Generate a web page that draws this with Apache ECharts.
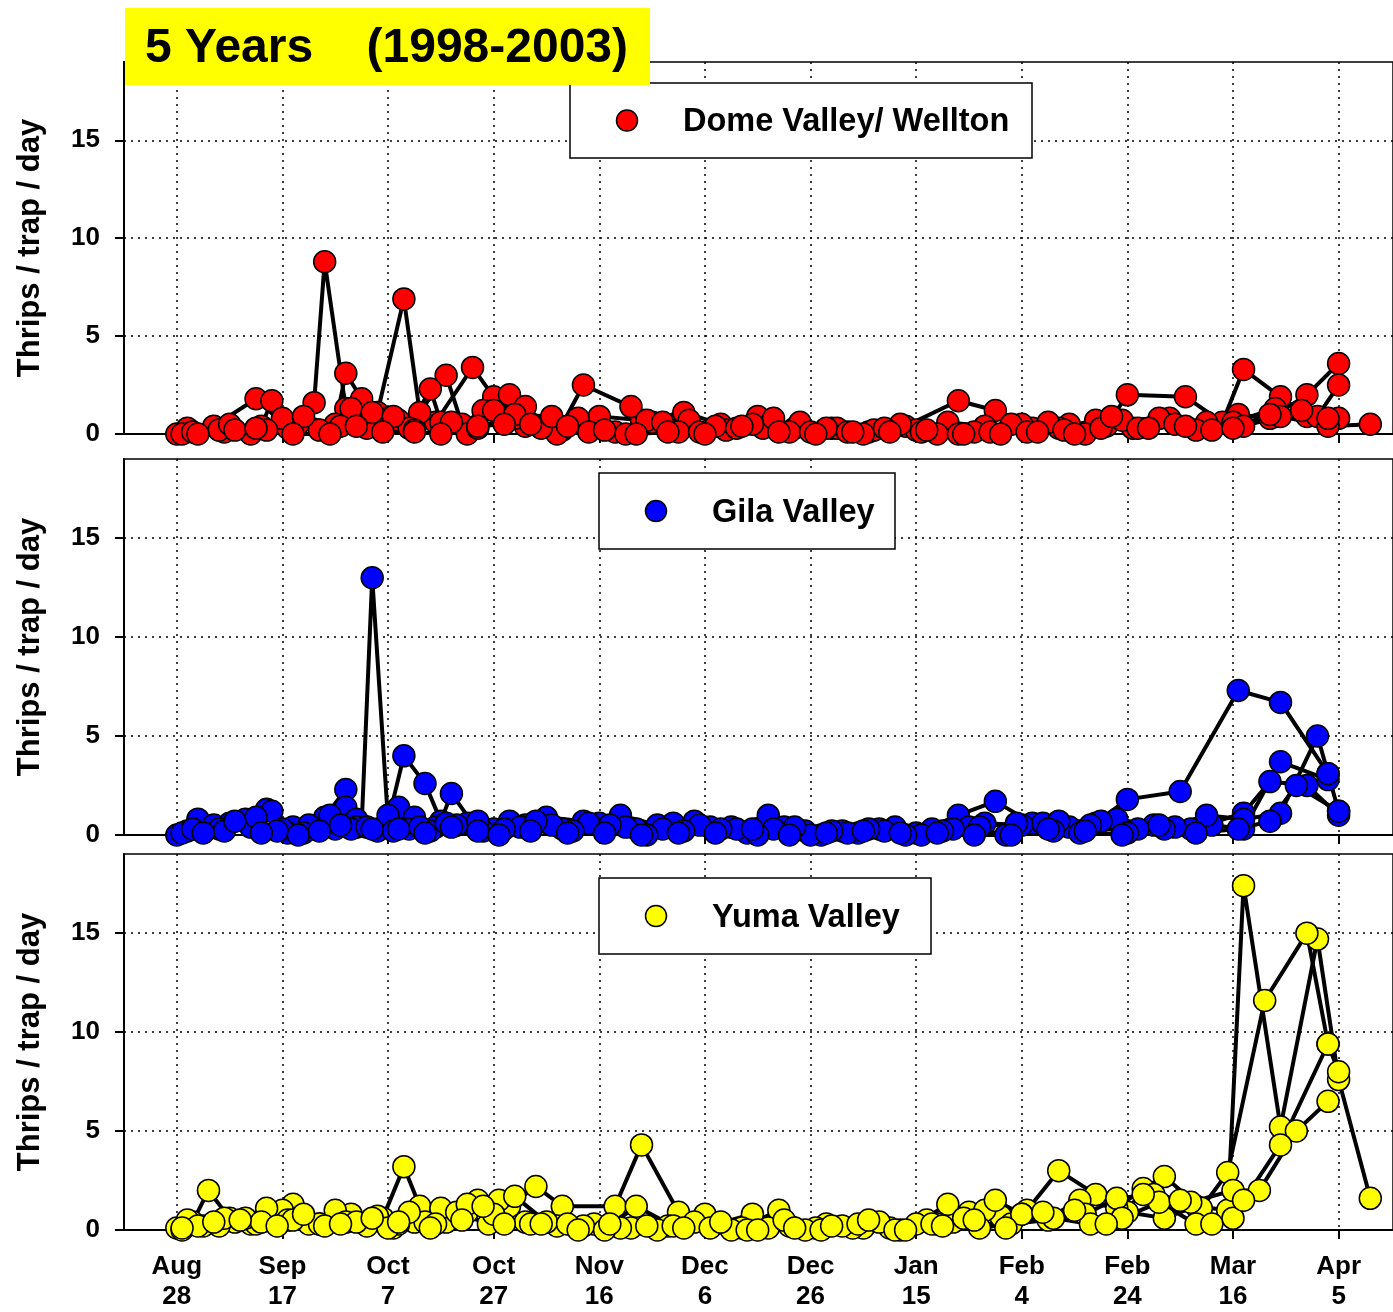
<!DOCTYPE html>
<html>
<head>
<meta charset="utf-8">
<script src="https://cdn.jsdelivr.net/npm/echarts@6/dist/echarts.min.js"></script>
<style>
  html, body { margin: 0; padding: 0; background: #fff; }
  #chart { width: 1393px; height: 1312px; }
</style>
</head>
<body>
<div id="chart"></div>
<script>
// days counted from Aug 28
const xTickDays = [0, 20, 40, 60, 80, 100, 120, 140, 160, 180, 200, 220];
const xTickLabels = ['Aug\n28', 'Sep\n17', 'Oct\n7', 'Oct\n27', 'Nov\n16', 'Dec\n6',
  'Dec\n26', 'Jan\n15', 'Feb\n4', 'Feb\n24', 'Mar\n16', 'Apr\n5'];
const yTicks = [0, 5, 10, 15];

// Dome Valley / Wellton, one line per season
const dome1 = [[0,0.0],[7,0.4],[15,1.8],[21,0.3],[26,1.6],[28,8.8],[32,1.3],[36,0.3],[42,0.7],[49,0.6],[56,3.4],[60,1.9],[66,0.4],[73,0.2],[80,0.9],[88,0.7],[96,1.1],[103,0.5],[110,0.9],[117,0.3],[124,0.3],[131,0.1],[138,0.4],[148,1.7],[155,1.2],[162,0.3],[169,0.5],[176,0.4],[180,2.0],[191,1.9],[198,0.6],[202,3.3],[209,1.9],[214,0.9],[220,0.8]];
const dome2 = [[2,0.3],[9,0.1],[16,0.4],[18,1.7],[23,0.5],[30,0.5],[32,3.1],[35,1.8],[38,1.1],[43,6.9],[46,1.1],[51,3.0],[54,0.5],[58,1.2],[63,2.0],[66,1.4],[72,0.0],[77,2.5],[86,1.4],[90,0.6],[97,0.7],[104,0.2],[111,0.3],[118,0.6],[125,0.3],[132,0.2],[140,0.2],[146,0.6],[153,0.4],[160,0.5],[167,0.3],[174,0.7],[181,0.3],[188,0.8],[195,0.6],[201,1.0],[207,0.8],[214,2.0],[220,3.6]];
const dome3 = [[1,0.0],[8,0.2],[14,0.0],[20,0.8],[27,0.2],[33,1.3],[40,0.8],[44,0.3],[48,2.3],[50,0.6],[55,0.0],[60,1.2],[64,0.8],[69,0.3],[76,0.8],[83,0.1],[89,0.7],[95,0.1],[102,0.4],[109,0.5],[116,0.1],[123,0.3],[130,0.0],[137,0.5],[144,0.0],[151,0.1],[158,0.5],[165,0.6],[172,0.0],[179,0.7],[186,0.8],[193,0.2],[200,0.6],[208,1.3],[216,0.9],[220,2.5]];
const dome4 = [[3,0.1],[10,0.5],[17,0.2],[24,0.9],[31,0.4],[37,1.1],[41,0.9],[45,0.2],[52,0.6],[57,0.3],[64,1.0],[71,0.9],[78,0.1],[85,0.0],[92,0.6],[99,0.1],[106,0.3],[113,0.8],[120,0.1],[127,0.1],[134,0.3],[141,0.1],[148,0.0],[154,0.1],[161,0.1],[168,0.2],[175,0.3],[182,0.3],[189,0.5],[196,0.2],[202,0.4],[209,0.9],[218,0.4],[226,0.5]];
const dome5 = [[4,0.0],[11,0.2],[15,0.3],[22,0.0],[29,0.0],[34,0.4],[39,0.1],[45,0.1],[50,0.0],[57,0.4],[62,0.5],[67,0.5],[74,0.4],[81,0.2],[87,0.0],[93,0.1],[100,0.0],[107,0.4],[114,0.1],[121,0.0],[128,0.1],[135,0.1],[142,0.2],[149,0.0],[156,0.0],[163,0.1],[170,0.0],[177,0.9],[184,0.3],[191,0.4],[200,0.3],[207,1.0],[213,1.2],[218,0.8]];

// Gila Valley
const gila1 = [[0,0.0],[4,0.8],[10,0.6],[17,1.3],[22,0.4],[28,0.9],[32,2.3],[35,0.5],[37,13.0],[40,0.7],[43,4.0],[47,2.6],[50,0.7],[52,2.1],[56,0.6],[63,0.7],[70,0.9],[77,0.7],[84,1.0],[91,0.5],[98,0.7],[105,0.4],[112,1.0],[119,0.2],[126,0.2],[133,0.3],[140,0.1],[148,1.0],[155,1.7],[162,0.6],[169,0.4],[174,0.6],[180,1.8],[190,2.2],[201,7.3],[209,6.7],[218,3.1],[220,1.2]];
const gila2 = [[2,0.2],[7,0.5],[13,0.8],[18,1.2],[21,0.1],[26,0.3],[32,1.4],[34,0.8],[38,0.2],[42,1.4],[45,0.9],[49,0.4],[55,0.6],[60,0.3],[66,0.5],[73,0.3],[80,0.6],[87,0.3],[94,0.6],[101,0.4],[108,0.1],[115,0.4],[122,0.0],[129,0.1],[136,0.4],[143,0.3],[150,0.4],[157,0.0],[164,0.6],[171,0.1],[178,0.8],[185,0.5],[192,0.3],[202,1.1],[207,2.7],[214,2.5],[220,1.0]];
const gila3 = [[1,0.1],[8,0.3],[14,0.4],[20,0.3],[25,0.5],[30,0.3],[34,0.4],[40,1.0],[44,0.3],[48,0.2],[53,0.5],[58,0.2],[65,0.4],[71,0.5],[78,0.6],[85,0.4],[92,0.3],[99,0.5],[106,0.3],[113,0.3],[120,0.0],[127,0.1],[134,0.2],[141,0.0],[147,0.3],[153,0.6],[160,0.5],[167,0.7],[175,0.7],[182,0.3],[189,0.4],[196,0.5],[202,0.3],[209,3.7],[218,2.8]];
const gila4 = [[3,0.3],[9,0.2],[15,0.9],[19,0.2],[24,0.1],[29,1.0],[33,0.3],[36,0.4],[41,0.2],[46,0.4],[51,0.6],[57,0.7],[62,0.3],[68,0.7],[75,0.2],[82,0.5],[89,0.0],[96,0.2],[103,0.3],[110,0.0],[117,0.4],[124,0.2],[131,0.3],[138,0.0],[145,0.2],[152,0.4],[159,0.6],[166,0.2],[173,0.5],[180,0.1],[187,0.3],[195,1.0],[202,0.8],[209,1.1],[216,5.0],[218,3.1]];
const gila5 = [[5,0.1],[11,0.7],[16,0.1],[23,0.0],[27,0.2],[31,0.5],[37,0.3],[42,0.3],[47,0.1],[52,0.4],[57,0.2],[61,0.0],[67,0.2],[74,0.1],[81,0.1],[88,0.0],[95,0.1],[102,0.1],[109,0.3],[116,0.0],[123,0.1],[130,0.2],[137,0.1],[144,0.1],[151,0.0],[158,0.0],[165,0.3],[172,0.2],[179,0.0],[186,0.5],[193,0.1],[201,0.3],[207,0.7],[212,2.5],[220,1.2]];

// Yuma Valley
const yuma1 = [[0,0.1],[3,0.4],[6,2.0],[10,0.6],[14,0.3],[18,0.6],[22,1.3],[27,0.3],[33,0.8],[39,0.6],[43,3.2],[46,1.2],[51,0.4],[57,1.5],[63,1.2],[68,2.2],[73,1.2],[83,1.2],[88,4.3],[95,0.9],[102,0.3],[109,0.8],[116,0.2],[123,0.3],[130,0.1],[137,0.0],[144,0.3],[150,0.9],[156,0.7],[161,1.0],[167,3.0],[174,1.8],[180,0.9],[187,0.6],[193,1.2],[199,1.0],[202,17.4],[209,5.2],[216,14.7],[220,7.6],[226,1.6]];
const yuma2 = [[1,0.0],[5,0.2],[11,0.4],[15,0.3],[20,1.0],[25,0.3],[30,1.0],[36,0.2],[41,0.1],[45,0.4],[50,1.1],[55,0.9],[61,1.5],[66,0.4],[72,0.2],[79,0.3],[86,0.1],[93,0.2],[100,0.8],[107,0.1],[114,1.0],[121,0.1],[128,0.1],[135,0.1],[142,0.5],[147,0.4],[153,1.0],[160,0.8],[165,0.6],[171,1.5],[178,1.1],[183,2.1],[187,2.7],[194,1.1],[199,2.9],[206,11.6],[214,15.0],[218,9.4],[220,8.0]];
const yuma3 = [[2,0.5],[8,0.2],[13,0.6],[17,1.1],[21,0.5],[27,0.3],[32,0.4],[38,0.7],[42,0.3],[47,0.4],[53,0.9],[59,0.3],[64,1.7],[70,0.4],[77,0.2],[84,0.1],[91,0.0],[98,0.4],[105,0.0],[112,0.1],[119,0.0],[126,0.2],[133,0.4],[140,0.3],[146,1.3],[152,0.1],[158,0.3],[165,0.5],[172,0.8],[178,1.6],[185,1.8],[192,1.4],[200,2.0],[205,2.0],[212,5.0],[218,6.5]];
const yuma4 = [[4,0.2],[9,0.6],[16,0.4],[22,0.5],[28,0.2],[34,0.4],[40,0.1],[44,0.9],[49,0.3],[55,1.3],[60,0.8],[67,0.3],[74,0.3],[81,0.0],[87,1.2],[94,0.2],[101,0.1],[108,0.0],[115,0.5],[122,0.0],[129,0.3],[136,0.0],[143,0.3],[149,0.6],[155,1.5],[160,0.8],[166,0.6],[173,0.3],[179,0.6],[186,1.4],[193,0.3],[200,0.6],[202,1.5],[209,4.3],[218,9.4]];
const yuma5 = [[1,0.1],[7,0.4],[12,0.5],[19,0.2],[24,0.8],[31,0.3],[37,0.6],[42,0.4],[48,0.1],[54,0.5],[58,1.2],[62,0.3],[69,0.3],[76,0.0],[82,0.3],[89,0.2],[96,0.1],[103,0.4],[110,0.0],[117,0.1],[124,0.2],[131,0.5],[138,0.0],[145,0.2],[151,0.5],[157,0.1],[164,0.9],[170,1.0],[176,0.3],[183,1.8],[190,1.5],[196,0.3]];

const panels = [
  { name: 'Dome Valley/ Wellton', color: '#ff0000', data: [dome1, dome2, dome3, dome4, dome5] },
  { name: 'Gila Valley', color: '#0000ff', data: [gila1, gila2, gila3, gila4, gila5] },
  { name: 'Yuma Valley', color: '#ffff00', data: [yuma1, yuma2, yuma3, yuma4, yuma5] }
];

const font = "'Liberation Sans', Arial, Helvetica, sans-serif";
const gridTops = [62, 459, 854];
const gridHeights = [372, 376, 376];

const chart = echarts.init(document.getElementById('chart'));

const grids = [], xAxes = [], yAxes = [], series = [];
panels.forEach((p, i) => {
  grids.push({
    left: 124, right: -6, top: gridTops[i], height: gridHeights[i],
    show: true, borderColor: '#000', borderWidth: 1.5
  });
  xAxes.push({
    gridIndex: i, type: 'value', min: -10, max: 230.3,
    axisLine: { onZero: false, lineStyle: { color: '#000', width: 2 } },
    axisTick: { customValues: xTickDays, length: 9, lineStyle: { color: '#000', width: 2 } },
    axisLabel: {
      show: i === 2, customValues: xTickDays, margin: 22,
      color: '#000', fontSize: 26, fontWeight: 'bold', fontFamily: font, lineHeight: 30,
      formatter: v => xTickLabels[xTickDays.indexOf(v)] || ''
    },
    splitLine: { show: true, lineStyle: { color: '#000', width: 1.5, type: [2, 5] } }
  });
  yAxes.push({
    gridIndex: i, type: 'value', min: 0, max: 19,
    name: 'Thrips / trap / day', nameLocation: 'middle', nameGap: 78,
    nameTextStyle: { color: '#000', fontSize: 31, fontWeight: 'bold', fontFamily: font },
    axisLine: { show: true, onZero: false, lineStyle: { color: '#000', width: 2 } },
    axisTick: { show: true, customValues: yTicks, length: 9, lineStyle: { color: '#000', width: 2 } },
    axisLabel: {
      customValues: yTicks, margin: 24,
      color: '#000', fontSize: 26, fontWeight: 'bold', fontFamily: font
    },
    splitLine: { show: true, lineStyle: { color: '#000', width: 1.5, type: [2, 5] } }
  });
  p.data.forEach(d => {
    series.push({
      type: 'line', xAxisIndex: i, yAxisIndex: i, data: d,
      symbol: 'circle', symbolSize: 22, clip: false,
      lineStyle: { color: '#000', width: 4 },
      itemStyle: { color: p.color, borderColor: '#000', borderWidth: 1.5 }
    });
  });
});

// legend boxes
const legendBoxes = [
  { x: 570, y: 83, w: 462, h: 75 },
  { x: 599, y: 473, w: 296, h: 76 },
  { x: 599, y: 878, w: 332, h: 76 }
];
const graphics = [];
panels.forEach((p, i) => {
  const b = legendBoxes[i];
  const cy = b.y + b.h / 2;
  graphics.push({
    type: 'rect', z: 100, shape: { x: b.x, y: b.y, width: b.w, height: b.h },
    style: { fill: '#fff', stroke: '#000', lineWidth: 1.5 }
  });
  graphics.push({
    type: 'circle', z: 101, shape: { cx: b.x + 57, cy: cy, r: 10.5 },
    style: { fill: p.color, stroke: '#000', lineWidth: 1.5 }
  });
  graphics.push({
    type: 'text', z: 101, x: b.x + 113, y: cy + 2,
    style: { text: p.name, fill: '#000', font: 'bold 32.5px ' + font, verticalAlign: 'middle' }
  });
});
// title box
graphics.push({
  type: 'rect', z: 100, shape: { x: 125, y: 8, width: 525, height: 77 },
  style: { fill: '#ffff00' }
});
graphics.push({
  type: 'text', z: 101, x: 145, y: 49,
  style: { text: '5 Years    (1998-2003)', fill: '#000', font: 'bold 48px ' + font, verticalAlign: 'middle' }
});

chart.setOption({
  animation: false,
  backgroundColor: '#fff',
  grid: grids,
  xAxis: xAxes,
  yAxis: yAxes,
  series: series,
  graphic: graphics
});
</script>
</body>
</html>
